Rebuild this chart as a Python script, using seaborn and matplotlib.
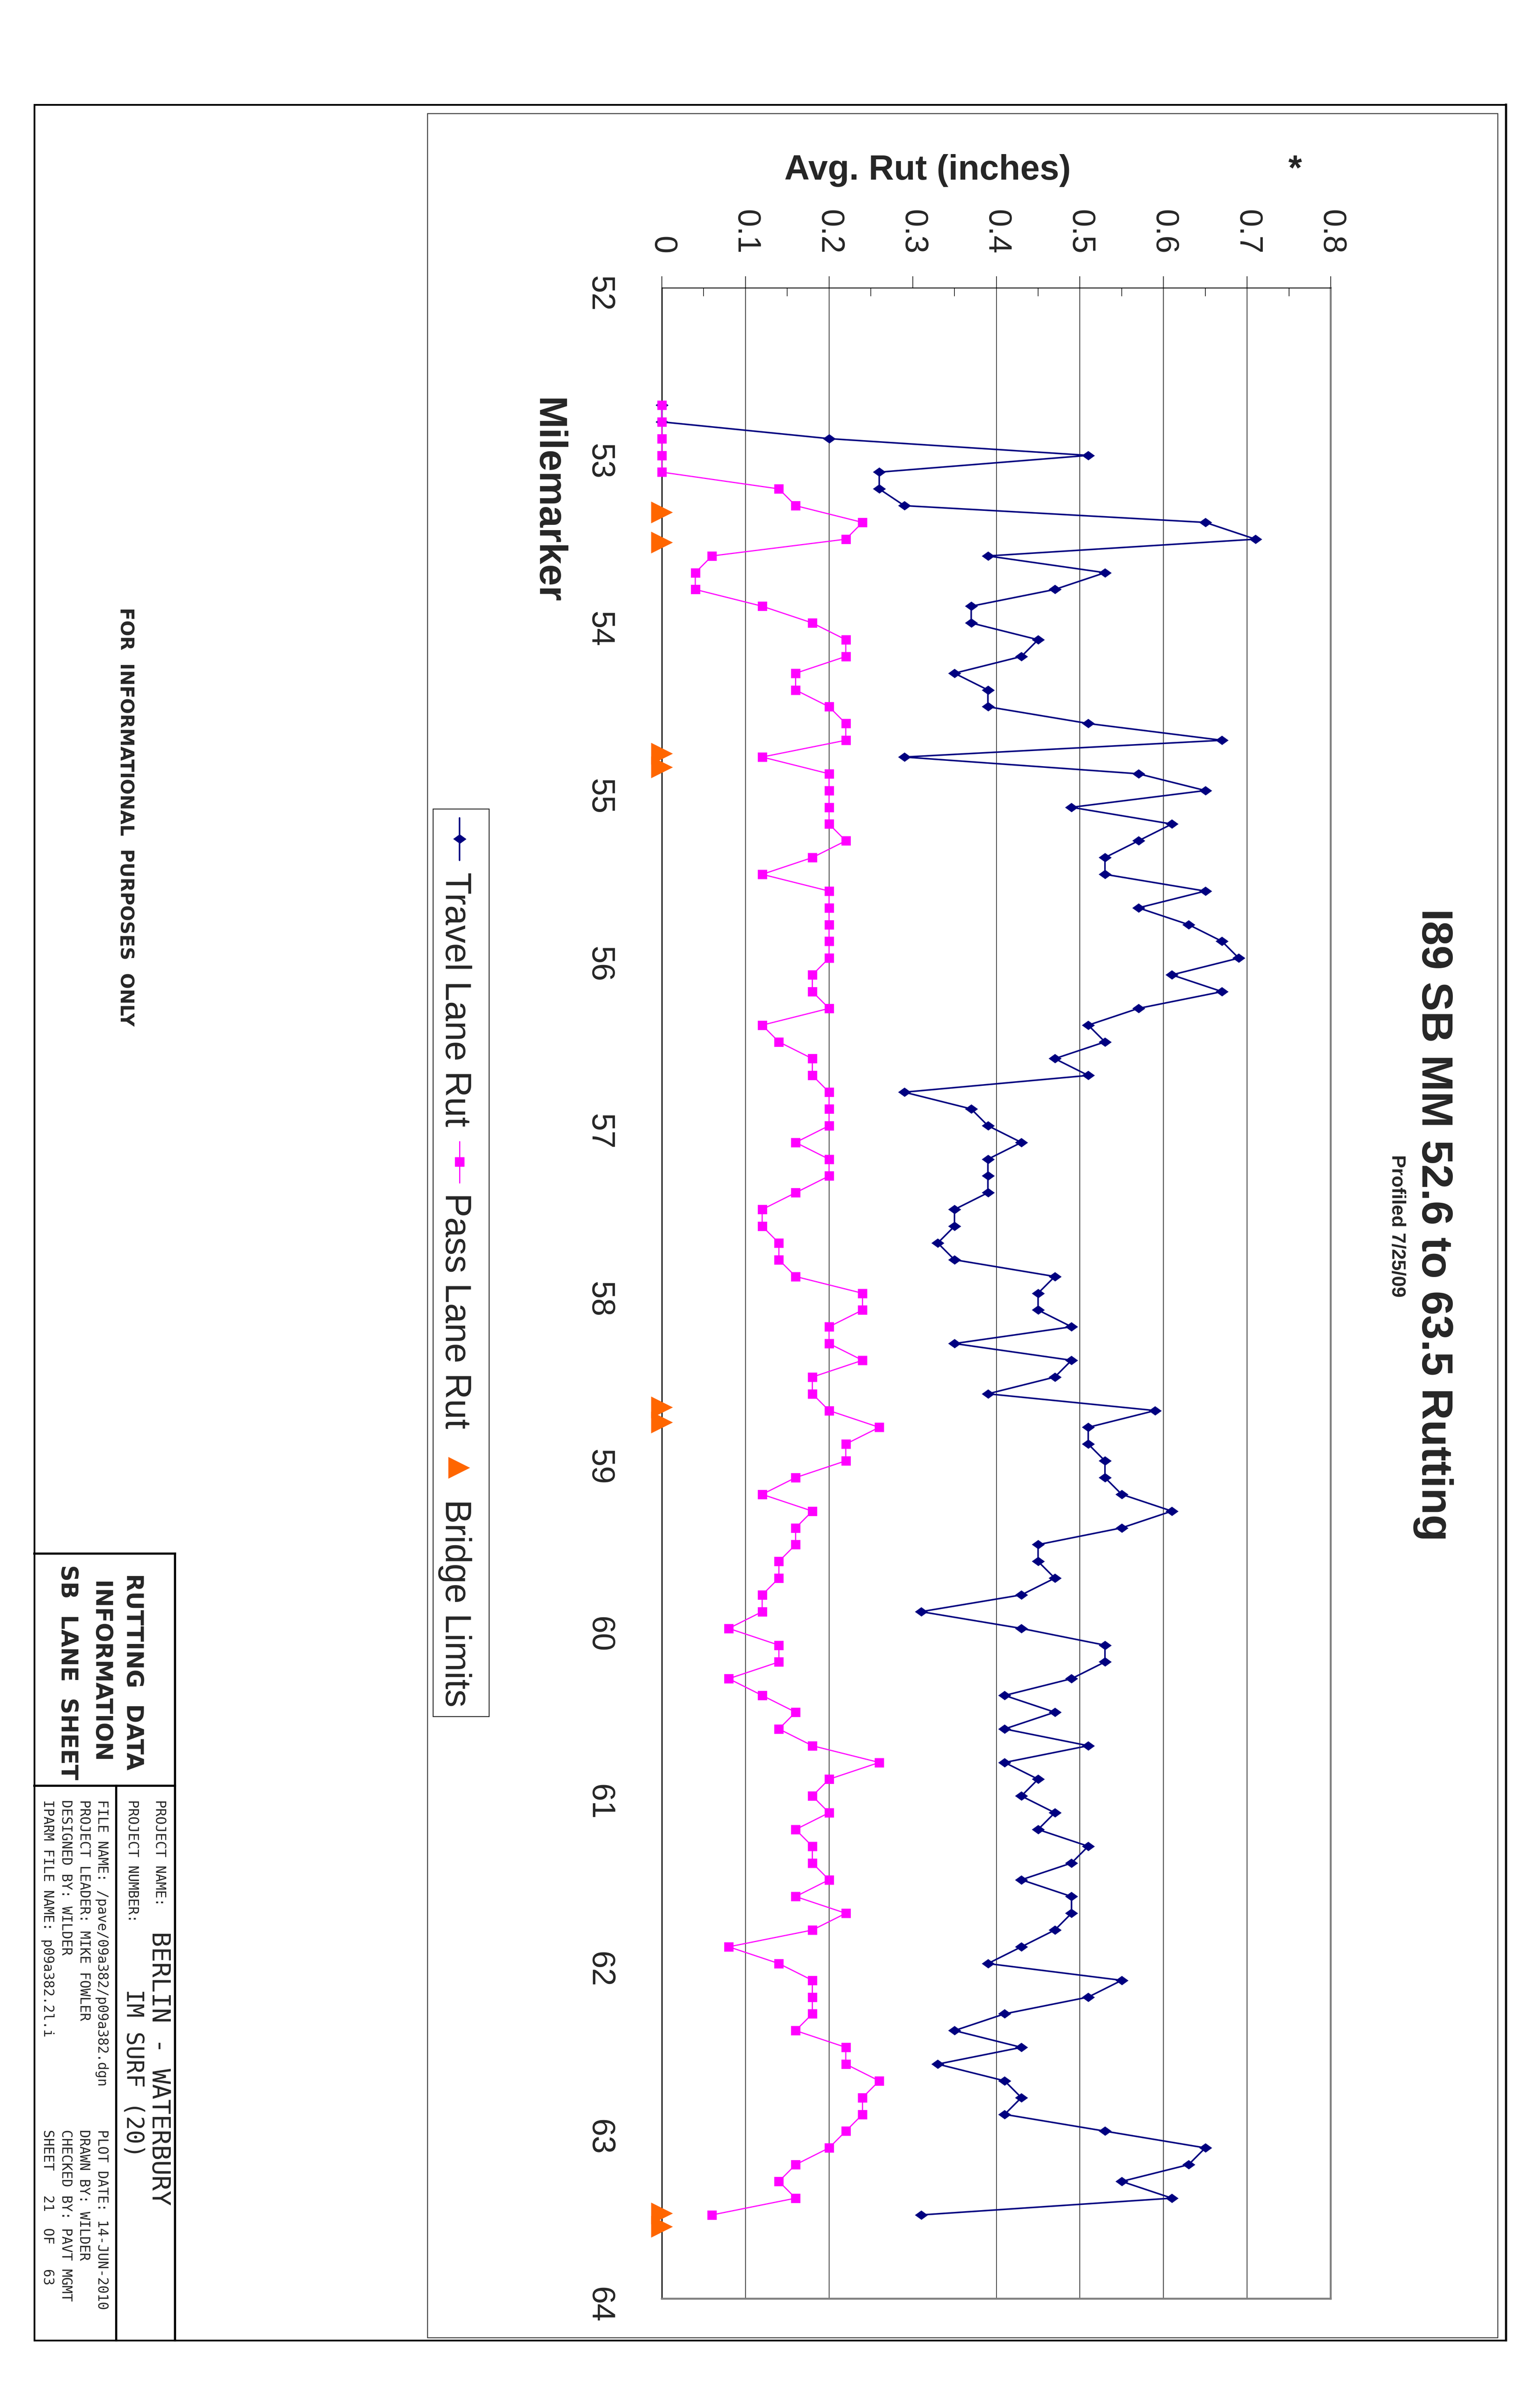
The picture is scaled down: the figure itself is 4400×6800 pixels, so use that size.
import matplotlib
matplotlib.use("Agg")
import matplotlib.pyplot as plt
import seaborn as sns
from matplotlib import font_manager
from matplotlib.lines import Line2D
from matplotlib.patches import Rectangle
from matplotlib.ticker import MultipleLocator

# milemarker of each reading (0.1 mile apart)
mile = [52.7, 52.8, 52.9,
        53.0, 53.1, 53.2, 53.3, 53.4, 53.5, 53.6, 53.7, 53.8, 53.9,
        54.0, 54.1, 54.2, 54.3, 54.4, 54.5, 54.6, 54.7, 54.8, 54.9,
        55.0, 55.1, 55.2, 55.3, 55.4, 55.5, 55.6, 55.7, 55.8, 55.9,
        56.0, 56.1, 56.2, 56.3, 56.4, 56.5, 56.6, 56.7, 56.8, 56.9,
        57.0, 57.1, 57.2, 57.3, 57.4, 57.5, 57.6, 57.7, 57.8, 57.9,
        58.0, 58.1, 58.2, 58.3, 58.4, 58.5, 58.6, 58.7, 58.8, 58.9,
        59.0, 59.1, 59.2, 59.3, 59.4, 59.5, 59.6, 59.7, 59.8, 59.9,
        60.0, 60.1, 60.2, 60.3, 60.4, 60.5, 60.6, 60.7, 60.8, 60.9,
        61.0, 61.1, 61.2, 61.3, 61.4, 61.5, 61.6, 61.7, 61.8, 61.9,
        62.0, 62.1, 62.2, 62.3, 62.4, 62.5, 62.6, 62.7, 62.8, 62.9,
        63.0, 63.1, 63.2, 63.3, 63.4, 63.5]

travel_rut = [0.00, 0.00, 0.20,
              0.51, 0.26, 0.26, 0.29, 0.65, 0.71, 0.39, 0.53, 0.47, 0.37,
              0.37, 0.45, 0.43, 0.35, 0.39, 0.39, 0.51, 0.67, 0.29, 0.57,
              0.65, 0.49, 0.61, 0.57, 0.53, 0.53, 0.65, 0.57, 0.63, 0.67,
              0.69, 0.61, 0.67, 0.57, 0.51, 0.53, 0.47, 0.51, 0.29, 0.37,
              0.39, 0.43, 0.39, 0.39, 0.39, 0.35, 0.35, 0.33, 0.35, 0.47,
              0.45, 0.45, 0.49, 0.35, 0.49, 0.47, 0.39, 0.59, 0.51, 0.51,
              0.53, 0.53, 0.55, 0.61, 0.55, 0.45, 0.45, 0.47, 0.43, 0.31,
              0.43, 0.53, 0.53, 0.49, 0.41, 0.47, 0.41, 0.51, 0.41, 0.45,
              0.43, 0.47, 0.45, 0.51, 0.49, 0.43, 0.49, 0.49, 0.47, 0.43,
              0.39, 0.55, 0.51, 0.41, 0.35, 0.43, 0.33, 0.41, 0.43, 0.41,
              0.53, 0.65, 0.63, 0.55, 0.61, 0.31]

pass_rut = [0.00, 0.00, 0.00,
            0.00, 0.00, 0.14, 0.16, 0.24, 0.22, 0.06, 0.04, 0.04, 0.12,
            0.18, 0.22, 0.22, 0.16, 0.16, 0.20, 0.22, 0.22, 0.12, 0.20,
            0.20, 0.20, 0.20, 0.22, 0.18, 0.12, 0.20, 0.20, 0.20, 0.20,
            0.20, 0.18, 0.18, 0.20, 0.12, 0.14, 0.18, 0.18, 0.20, 0.20,
            0.20, 0.16, 0.20, 0.20, 0.16, 0.12, 0.12, 0.14, 0.14, 0.16,
            0.24, 0.24, 0.20, 0.20, 0.24, 0.18, 0.18, 0.20, 0.26, 0.22,
            0.22, 0.16, 0.12, 0.18, 0.16, 0.16, 0.14, 0.14, 0.12, 0.12,
            0.08, 0.14, 0.14, 0.08, 0.12, 0.16, 0.14, 0.18, 0.26, 0.20,
            0.18, 0.20, 0.16, 0.18, 0.18, 0.20, 0.16, 0.22, 0.18, 0.08,
            0.14, 0.18, 0.18, 0.18, 0.16, 0.22, 0.22, 0.26, 0.24, 0.24,
            0.22, 0.20, 0.16, 0.14, 0.16, 0.06]

# bridge limits, drawn on the zero line
bridge_mile = [53.34, 53.52, 54.78, 54.86, 58.68, 58.77, 63.49, 63.57]
bridge_rut = [0, 0, 0, 0, 0, 0, 0, 0]

rut_ticks = [0, 0.1, 0.2, 0.3, 0.4, 0.5, 0.6, 0.7, 0.8]
rut_labels = ["0", "0.1", "0.2", "0.3", "0.4", "0.5", "0.6", "0.7", "0.8"]
rut_minor = [0.05, 0.15, 0.25, 0.35, 0.45, 0.55, 0.65, 0.75]
grid_rut = [0.1, 0.2, 0.4, 0.5, 0.6, 0.7]
mile_ticks = [52, 53, 54, 55, 56, 57, 58, 59, 60, 61, 62, 63, 64]

NAVY = "#000080"
PINK = "#FF00FF"
ORANGE = "#FF6600"
GREY = "#808080"
DIAMOND = [(-1, 0), (0, 0.72), (1, 0), (0, -0.72)]

sns.set_style("white")
plt.rcParams["font.family"] = ["Liberation Sans", "DejaVu Sans"]

names = {f.name for f in font_manager.fontManager.ttflist}
if "Liberation Sans Narrow" in names:
    tick_family, tick_size = ["Liberation Sans Narrow", "DejaVu Sans"], 80
else:
    tick_family, tick_size = ["Liberation Sans", "DejaVu Sans"], 66

W, H = 4400, 6800
fig = plt.figure(figsize=(W / 100, H / 100), dpi=100)


def fx(x):
    return x / W


def fy(y):
    return 1 - y / H


def pline(x1, y1, x2, y2, lw=3.6, color="black"):
    fig.add_artist(Line2D([fx(x1), fx(x2)], [fy(y1), fy(y2)], transform=fig.transFigure,
                          color=color, lw=lw, solid_capstyle="projecting"))


def rtext(x, y, s, size, ha="left", **kw):
    fig.text(fx(x), fy(y), s, rotation=-90, rotation_mode="anchor", ha=ha,
             va="baseline", fontsize=size, **kw)


# page frame and chart area
pline(98, 299, 4303, 299)
pline(98, 299, 98, 6684)
pline(4303, 299, 4303, 6684, lw=4.5)
pline(98, 6684, 4303, 6684)
fig.add_artist(Rectangle((fx(1221), fy(6676)), (4279 - 1221) / W, (6676 - 324) / H,
                         transform=fig.transFigure, fill=False, ec="#303030", lw=1.8))

# plot
ax = fig.add_axes([fx(1891), fy(6565), (3802 - 1891) / W, (6565 - 822) / H])
for g in grid_rut:
    ax.axvline(g, color="black", lw=1.2, zorder=1)

sns.lineplot(x=travel_rut, y=mile, sort=False, estimator=None, ax=ax, color=NAVY,
             linewidth=3.2, marker=DIAMOND, markersize=26, markerfacecolor=NAVY,
             markeredgecolor=NAVY, markeredgewidth=0.5, clip_on=False, zorder=3)
sns.lineplot(x=pass_rut, y=mile, sort=False, estimator=None, ax=ax, color=PINK,
             linewidth=2.4, marker="s", markersize=19, markerfacecolor=PINK,
             markeredgecolor=PINK, markeredgewidth=0.5, clip_on=False, zorder=4)
sns.scatterplot(x=bridge_rut, y=bridge_mile, ax=ax, marker=">", s=2000, color=ORANGE,
                linewidth=0, clip_on=False, zorder=5, legend=False)

ax.set_xlim(0, 0.8)
ax.set_ylim(64, 52)
ax.set_xlabel("")
ax.set_ylabel("")
ax.xaxis.tick_top()
ax.set_xticks(rut_ticks)
ax.set_xticklabels(rut_labels, fontfamily=tick_family, fontsize=tick_size)
ax.set_xticks(rut_minor, minor=True)
ax.set_yticks(mile_ticks)
ax.set_yticklabels([str(m) for m in mile_ticks], fontfamily=tick_family, fontsize=tick_size)
ax.yaxis.set_minor_locator(MultipleLocator(0.1))
ax.tick_params(axis="x", which="major", direction="out", length=24, width=1.3, pad=45,
               labelrotation=-90, color="black")
ax.tick_params(axis="x", which="minor", direction="in", length=17, width=1.3, color="black")
ax.tick_params(axis="y", which="major", direction="inout", length=43, width=2, pad=76,
               labelrotation=-90, color="black")
ax.tick_params(axis="y", which="minor", direction="in", length=17, width=2, color="black")
ax.spines["top"].set(color="black", lw=1.8)
ax.spines["left"].set(color="black", lw=2.5)
ax.spines["right"].set(color=GREY, lw=4)
ax.spines["bottom"].set(color=GREY, lw=4)

# chart texts
rtext(4063, 3498, "I89 SB MM 52.6 to 63.5 Rutting", 90, ha="center", fontweight="bold")
rtext(3977, 3501, "Profiled 7/25/09", 40, ha="center", fontweight="bold")
fig.text(fx(2650), fy(513), "Avg. Rut (inches)", ha="center", va="baseline",
         fontsize=72, fontweight="bold")
fig.text(fx(3700), fy(513), "*", ha="center", va="baseline", fontsize=72, fontweight="bold")
rtext(1535, 1430, "Milemarker", 80, ha="center", fontweight="bold")

# legend
fig.add_artist(Rectangle((fx(1237), fy(4902)), (1397 - 1237) / W, (4902 - 2310) / H,
                         transform=fig.transFigure, fc="white", ec="#202020", lw=1.8))
fig.add_artist(Line2D([fx(1313)] * 3, [fy(2336), fy(2396), fy(2457)], transform=fig.transFigure,
                      color=NAVY, lw=3.2, marker=DIAMOND, markevery=[1], markersize=26,
                      markerfacecolor=NAVY, markeredgecolor=NAVY))
fig.add_artist(Line2D([fx(1313)] * 3, [fy(3260), fy(3318), fy(3378)], transform=fig.transFigure,
                      color=PINK, lw=2.4, marker="s", markevery=[1], markersize=19,
                      markerfacecolor=PINK, markeredgecolor=PINK))
fig.add_artist(Line2D([fx(1312)], [fy(4192)], transform=fig.transFigure, lw=0,
                      marker=">", markersize=45, markerfacecolor=ORANGE, markeredgewidth=0))
rtext(1273, 2491, "Travel Lane Rut", 74)
rtext(1273, 3407, "Pass Lane Rut", 74)
rtext(1273, 4282, "Bridge Limits", 74)

rtext(344, 2333, "FOR  INFORMATIONAL  PURPOSES  ONLY", 38, ha="center",
      fontweight="bold", family=["DejaVu Sans"])

# title block
pline(98, 4437, 500, 4437, lw=4.5)
pline(500, 4437, 500, 6684, lw=4.5)
pline(98, 5100, 500, 5100, lw=4.5)
pline(332, 5100, 332, 6684, lw=4.5)

head = dict(fontweight="bold", family=["DejaVu Sans"])
rtext(362, 4775, "RUTTING  DATA", 47, ha="center", **head)
rtext(268, 4775, "INFORMATION", 47, ha="center", **head)
rtext(175, 4776, "SB  LANE  SHEET", 47, ha="center", **head)

mono = dict(family=["DejaVu Sans Mono"])
rtext(445, 5140, "PROJECT NAME:", 28, **mono)
rtext(435, 5516, "BERLIN - WATERBURY", 52, **mono)
rtext(366, 5140, "PROJECT NUMBER:", 28, **mono)
rtext(362, 5681, "IM SURF (20)", 48, **mono)
rtext(280, 5140, "FILE NAME: /pave/09a382/p09a382.dgn", 28, **mono)
rtext(280, 6082, "PLOT DATE: 14-JUN-2010", 28, **mono)
rtext(228, 5140, "PROJECT LEADER: MIKE FOWLER", 28, **mono)
rtext(228, 6082, "DRAWN BY: WILDER", 28, **mono)
rtext(176, 5140, "DESIGNED BY: WILDER", 28, **mono)
rtext(176, 6082, "CHECKED BY: PAVT MGMT", 28, **mono)
rtext(125, 5140, "IPARM FILE NAME: p09a382.2l.i", 28, **mono)
rtext(125, 6082, "SHEET   21  OF   63", 28, **mono)

fig.savefig("out.png", dpi=100)
